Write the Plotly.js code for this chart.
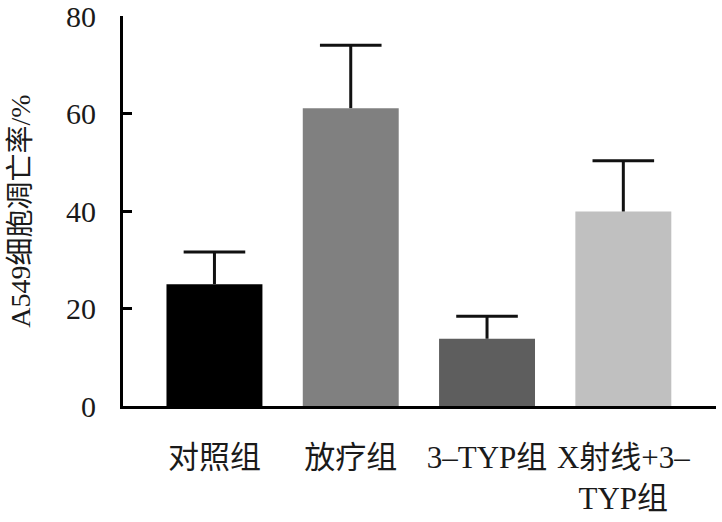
<!DOCTYPE html>
<html>
<head>
<meta charset="utf-8">
<script src="https://cdn.plot.ly/plotly-3.0.1.min.js"></script>
<style>
  html, body { margin: 0; padding: 0; background: #fff; }
  #chart { width: 722px; height: 522px; }
  #chart svg text { font-family: "Liberation Serif", "DejaVu Serif", "Noto Sans CJK SC", serif !important; }
</style>
</head>
<body>
<div id="chart"></div>
<script>
const groups = ['对照组', '放疗组', '3–TYP组', 'X射线+3–<br>TYP组'];
const apoptosisRate = [25.0, 61.1, 13.8, 39.9];
const errorPlus = [6.6, 12.9, 4.6, 10.4];
const barColors = ['#000000', '#808080', '#5e5e5e', '#c0c0c0'];
const yTicks = [0, 20, 40, 60, 80];

const fontFamily = 'Liberation Serif';

// bars with the upward whisker only (no cap)
const bars = {
  x: groups,
  y: apoptosisRate,
  type: 'bar',
  marker: {color: barColors, line: {width: 0}},
  error_y: {
    type: 'data',
    symmetric: false,
    array: errorPlus,
    arrayminus: [0, 0, 0, 0],
    color: '#111',
    thickness: 3,
    width: 0
  },
  hoverinfo: 'none'
};

// caps on top of the whiskers
const caps = {
  x: groups,
  y: apoptosisRate.map((v, i) => v + errorPlus[i]),
  type: 'scatter',
  mode: 'markers',
  marker: {symbol: 'line-ew', size: 44, line: {width: 3, color: '#111'}},
  hoverinfo: 'none'
};

const layout = {
  width: 722,
  height: 522,
  margin: {l: 123, r: 6, t: 16, b: 116},
  paper_bgcolor: '#fff',
  plot_bgcolor: '#fff',
  showlegend: false,
  bargap: 0.296,
  font: {family: fontFamily, color: '#1a1a1a', size: 30},
  xaxis: {
    type: 'category',
    range: [-0.671, 3.68],
    showline: true,
    linecolor: '#000',
    linewidth: 3,
    ticks: '',
    showgrid: false,
    zeroline: false,
    tickfont: {size: 31, family: fontFamily},
    ticklabelstandoff: 22
  },
  yaxis: {
    range: [0, 80],
    tickvals: yTicks,
    ticktext: yTicks.map(String),
    showline: true,
    linecolor: '#000',
    linewidth: 3,
    ticks: 'inside',
    ticklen: 9,
    tickwidth: 3,
    tickcolor: '#000',
    showgrid: false,
    zeroline: false,
    ticklabeloverflow: 'allow',
    tickfont: {size: 30, family: fontFamily},
    ticklabelstandoff: 18,
    title: {text: 'A549细胞凋亡率/%', font: {size: 28, family: fontFamily}, standoff: 28}
  }
};

Plotly.newPlot('chart', [bars, caps], layout, {staticPlot: true, displayModeBar: false});
</script>
</body>
</html>
